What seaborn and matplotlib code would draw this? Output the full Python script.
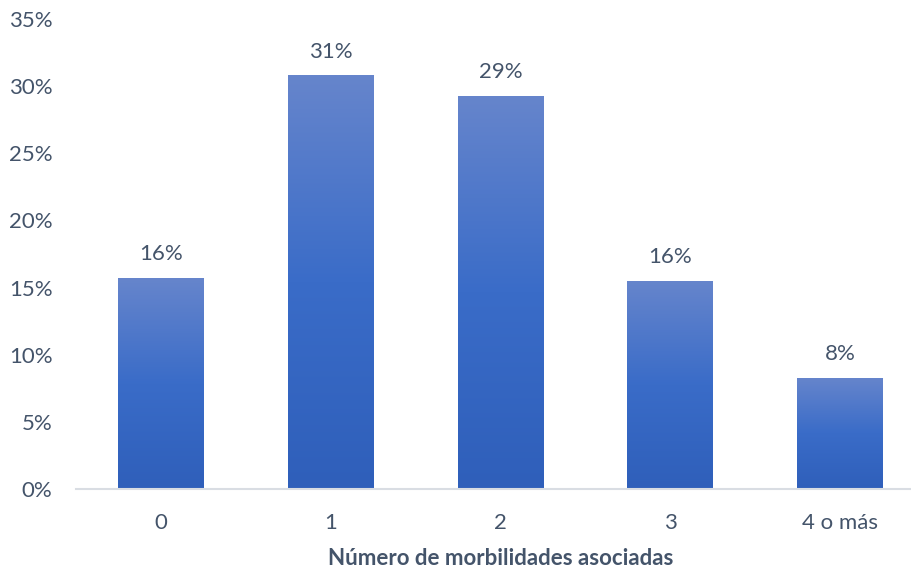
import numpy as np
import pandas as pd
import matplotlib
matplotlib.use("Agg")
import matplotlib.pyplot as plt
import seaborn as sns
from matplotlib.colors import LinearSegmentedColormap

categories = ["0", "1", "2", "3", "4 o más"]
values = [15.7, 30.8, 29.3, 15.5, 8.3]
labels = ["16%", "31%", "29%", "16%", "8%"]
yticks = [0, 5, 10, 15, 20, 25, 30, 35]
xlabel = "Número de morbilidades asociadas"

sns.set_theme(style="white")
plt.rcParams["font.family"] = ["Lato", "DejaVu Sans"]
text_color = "#44546A"

df = pd.DataFrame({"cat": categories, "val": values})

fig = plt.figure(figsize=(9.12, 5.69), dpi=100)
W, H = 912, 569
x0, x1 = 76, 925
y0, y1 = 489, 19
ax = fig.add_axes([x0 / W, 1 - y0 / H, (x1 - x0) / W, (y0 - y1) / H])

sns.barplot(data=df, x="cat", y="val", ax=ax, color="#3a6cc8", width=0.506,
            saturation=1)

cmap = LinearSegmentedColormap.from_list("g", ["#2f5fba", "#3a6cc8", "#6685cc"])
grad = np.linspace(0, 1, 256).reshape(-1, 1)
for p in list(ax.patches):
    bx, by = p.get_x(), p.get_y()
    bw, bh = p.get_width(), p.get_height()
    im = ax.imshow(grad, cmap=cmap, aspect="auto", origin="lower",
                   extent=[bx, bx + bw, by, by + bh], zorder=p.get_zorder() + 0.1)
    im.set_clip_path(p)

fs = 16
for i, (v, lab) in enumerate(zip(values, labels)):
    ax.annotate(lab, (i, v), xytext=(0, 10), textcoords="offset points",
                ha="center", va="bottom", fontsize=fs, color=text_color)

ax.set_xlim(-0.5, 4.5)
ax.set_ylim(0, 35)
ax.set_yticks(yticks)
ax.set_yticklabels([f"{t}%" for t in yticks])
ax.tick_params(axis="both", labelsize=fs, colors=text_color, length=0)
ax.tick_params(axis="y", pad=17)
ax.tick_params(axis="x", pad=17)
ax.set_xlabel(xlabel, fontsize=fs, fontweight="bold", color=text_color, labelpad=11)
ax.set_ylabel("")
for s in ["top", "right", "left"]:
    ax.spines[s].set_visible(False)
ax.spines["bottom"].set_color("#D9DDE3")
ax.spines["bottom"].set_linewidth(1.5)
ax.grid(False)

fig.savefig("out.png", dpi=100)
